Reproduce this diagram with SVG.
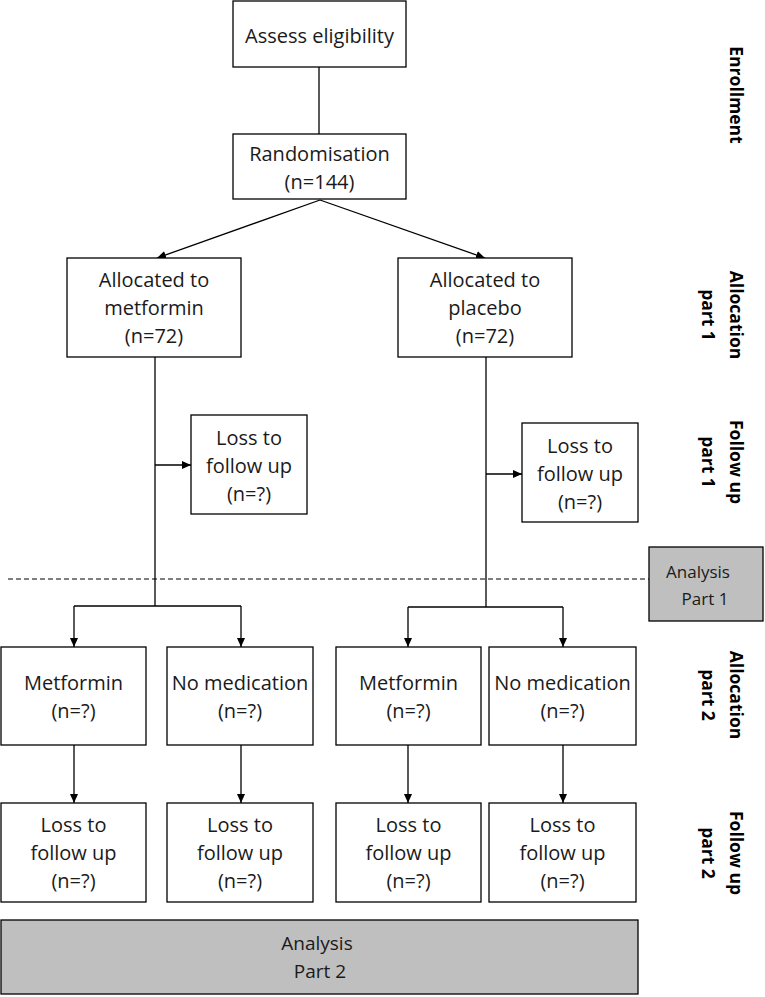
<svg xmlns="http://www.w3.org/2000/svg" width="765" height="997" viewBox="0 0 765 997">
<style>
.box{fill:#ffffff;stroke:#000000;stroke-width:1.3}
.gray{fill:#bfbfbf;stroke:#000000;stroke-width:1.3}
.t{font-family:"Open Sans","Noto Sans",sans-serif;font-size:20px;fill:#1a1a1a;text-anchor:middle}
.ts{font-size:17px}
.tm{font-size:19px}
.lab{font-family:"Open Sans","Noto Sans",sans-serif;font-size:17.5px;font-weight:bold;fill:#000000;text-anchor:middle}
.ln{fill:none;stroke:#000000;stroke-width:1.3}
.ar{fill:none;stroke:#000000;stroke-width:1.3;marker-end:url(#ah)}
.dash{fill:none;stroke:#000000;stroke-width:1.2;stroke-dasharray:5,3}
</style>
<defs>
<marker id="ah" markerWidth="10" markerHeight="10" refX="9" refY="5" orient="auto" markerUnits="userSpaceOnUse">
<path d="M0,1 L9,5 L0,9 Z" fill="#000000"/>
</marker>
</defs>
<rect width="765" height="997" fill="#ffffff"/>

<g id="connectors">
<line class="ln" x1="319" y1="67" x2="319" y2="134"/>
<line class="ar" x1="320" y1="200" x2="157" y2="258"/>
<line class="ar" x1="320" y1="200" x2="485" y2="258"/>
<line class="ln" x1="155" y1="357" x2="155" y2="606"/>
<line class="ln" x1="74" y1="606" x2="241" y2="606"/>
<line class="ar" x1="74" y1="606" x2="74" y2="647"/>
<line class="ar" x1="241" y1="606" x2="241" y2="647"/>
<line class="ar" x1="155" y1="465" x2="191" y2="465"/>
<line class="ln" x1="486" y1="357" x2="486" y2="607"/>
<line class="ln" x1="408" y1="607" x2="563" y2="607"/>
<line class="ar" x1="408" y1="607" x2="408" y2="647"/>
<line class="ar" x1="563" y1="607" x2="563" y2="647"/>
<line class="ar" x1="486" y1="474" x2="522" y2="474"/>
<line class="ar" x1="74" y1="745" x2="74" y2="803"/>
<line class="ar" x1="241" y1="745" x2="241" y2="803"/>
<line class="ar" x1="408" y1="745" x2="408" y2="803"/>
<line class="ar" x1="563" y1="745" x2="563" y2="803"/>
<line class="dash" x1="8" y1="579" x2="649" y2="579"/>
</g>

<g id="assess">
<rect class="box" x="233" y="1" width="173" height="66"/>
<text class="t" x="319.5" y="43">Assess eligibility</text>
</g>
<g id="randomisation">
<rect class="box" x="233" y="134" width="173" height="65"/>
<text class="t" x="319.5" y="161">Randomisation</text>
<text class="t" x="319.5" y="189">(n=144)</text>
</g>
<g id="alloc-metformin">
<rect class="box" x="67" y="258" width="174" height="99"/>
<text class="t" x="154" y="287">Allocated to</text>
<text class="t" x="154" y="315">metformin</text>
<text class="t" x="154" y="343">(n=72)</text>
</g>
<g id="alloc-placebo">
<rect class="box" x="398" y="258" width="174" height="99"/>
<text class="t" x="485" y="287">Allocated to</text>
<text class="t" x="485" y="315">placebo</text>
<text class="t" x="485" y="343">(n=72)</text>
</g>
<g id="loss1-left">
<rect class="box" x="191" y="415" width="116" height="99"/>
<text class="t" x="249" y="445">Loss to</text>
<text class="t" x="249" y="473">follow up</text>
<text class="t" x="249" y="501">(n=?)</text>
</g>
<g id="loss1-right">
<rect class="box" x="522" y="423" width="116" height="99"/>
<text class="t" x="580" y="453">Loss to</text>
<text class="t" x="580" y="481">follow up</text>
<text class="t" x="580" y="509">(n=?)</text>
</g>
<g id="analysis1">
<rect class="gray" x="649" y="547" width="114" height="74"/>
<text class="t ts" x="698" y="578">Analysis</text>
<text class="t ts" x="705" y="605">Part 1</text>
</g>
<g id="met-left">
<rect class="box" x="1" y="647" width="145" height="98"/>
<text class="t" x="73.5" y="690">Metformin</text>
<text class="t" x="73.5" y="718">(n=?)</text>
</g>
<g id="nomed-left">
<rect class="box" x="167" y="647" width="146" height="98"/>
<text class="t" x="240" y="690">No medication</text>
<text class="t" x="240" y="718">(n=?)</text>
</g>
<g id="met-right">
<rect class="box" x="336" y="647" width="145" height="98"/>
<text class="t" x="408.5" y="690">Metformin</text>
<text class="t" x="408.5" y="718">(n=?)</text>
</g>
<g id="nomed-right">
<rect class="box" x="489" y="647" width="147" height="98"/>
<text class="t" x="562.5" y="690">No medication</text>
<text class="t" x="562.5" y="718">(n=?)</text>
</g>
<g id="loss2-1">
<rect class="box" x="1" y="803" width="145" height="99"/>
<text class="t" x="73.5" y="832">Loss to</text>
<text class="t" x="73.5" y="860">follow up</text>
<text class="t" x="73.5" y="888">(n=?)</text>
</g>
<g id="loss2-2">
<rect class="box" x="167" y="803" width="146" height="99"/>
<text class="t" x="240" y="832">Loss to</text>
<text class="t" x="240" y="860">follow up</text>
<text class="t" x="240" y="888">(n=?)</text>
</g>
<g id="loss2-3">
<rect class="box" x="336" y="803" width="145" height="99"/>
<text class="t" x="408.5" y="832">Loss to</text>
<text class="t" x="408.5" y="860">follow up</text>
<text class="t" x="408.5" y="888">(n=?)</text>
</g>
<g id="loss2-4">
<rect class="box" x="489" y="803" width="147" height="99"/>
<text class="t" x="562.5" y="832">Loss to</text>
<text class="t" x="562.5" y="860">follow up</text>
<text class="t" x="562.5" y="888">(n=?)</text>
</g>
<g id="analysis2">
<rect class="gray" x="1" y="920" width="637" height="74"/>
<text class="t tm" x="317" y="950">Analysis</text>
<text class="t tm" x="320" y="978">Part 2</text>
</g>

<g id="stage-labels">
<text class="lab" transform="translate(730,95) rotate(90)">Enrollment</text>
<text class="lab" transform="translate(730,315) rotate(90)"><tspan x="0" y="0">Allocation</tspan><tspan x="0" y="28">part 1</tspan></text>
<text class="lab" transform="translate(730,462) rotate(90)"><tspan x="0" y="0">Follow up</tspan><tspan x="0" y="28">part 1</tspan></text>
<text class="lab" transform="translate(730,695) rotate(90)"><tspan x="0" y="0">Allocation</tspan><tspan x="0" y="28">part 2</tspan></text>
<text class="lab" transform="translate(730,853) rotate(90)"><tspan x="0" y="0">Follow up</tspan><tspan x="0" y="28">part 2</tspan></text>
</g>
</svg>
